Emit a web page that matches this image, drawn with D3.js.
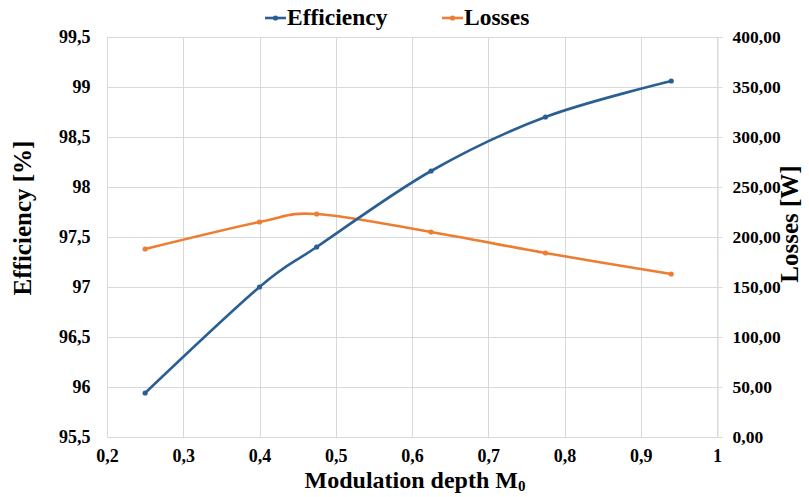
<!DOCTYPE html>
<html>
<head>
<meta charset="utf-8">
<script src="https://cdn.jsdelivr.net/npm/d3@7"></script>
<style>
  html, body { margin: 0; padding: 0; background: #fff; }
</style>
</head>
<body>
<svg id="chart" width="809" height="497"></svg>
<script>
// Modulation depth (x) and the two measured series
const modulation = [0.25, 0.4, 0.475, 0.625, 0.775, 0.94];
const efficiency = [95.94, 97.0, 97.40, 98.16, 98.70, 99.06];
const losses = [188, 215, 223, 205, 184, 163];

const xTicks = [0.2, 0.3, 0.4, 0.5, 0.6, 0.7, 0.8, 0.9, 1.0];
const effTicks = [95.5, 96, 96.5, 97, 97.5, 98, 98.5, 99, 99.5];
const lossTicks = [0, 50, 100, 150, 200, 250, 300, 350, 400];

const seriesNames = ["Efficiency", "Losses"];
const colors = ["#2A5F93", "#ED7D31"];

const FONT = "'Liberation Serif', 'Times New Roman', serif";

const svg = d3.select("#chart")
  .style("font-family", FONT).style("font-weight", "bold");
const plotL = 107, plotR = 717, plotT = 37, plotB = 437;

const x = d3.scaleLinear().domain([0.2, 1.0]).range([plotL, plotR]);
const yL = d3.scaleLinear().domain([95.5, 99.5]).range([plotB, plotT]);
const yR = d3.scaleLinear().domain([0, 400]).range([plotB, plotT]);

const comma = s => s.replace(".", ",");
const fmtX = v => comma(d3.format("~g")(v));
const fmtL = v => comma(d3.format("~g")(v));
const fmtR = v => comma(d3.format(".2f")(v));

// gridlines
const grid = svg.append("g").attr("stroke", "#d9d9d9").attr("stroke-width", 1);
grid.selectAll(".h").data(effTicks).enter().append("line")
  .attr("x1", plotL).attr("x2", plotR)
  .attr("y1", d => Math.round(yL(d)) + 0.5).attr("y2", d => Math.round(yL(d)) + 0.5);
grid.selectAll(".v").data(xTicks).enter().append("line")
  .attr("y1", plotT).attr("y2", plotB)
  .attr("x1", d => Math.round(x(d)) + 0.5).attr("x2", d => Math.round(x(d)) + 0.5);

function styleTicks(g, size) {
  g.attr("font-family", null).attr("font-size", null);
  g.selectAll(".tick text")
    .style("font-family", FONT).style("font-weight", "bold")
    .style("font-size", size + "px").attr("fill", "#000");
}

// right axis
const axR = d3.axisRight(yR).tickValues(lossTicks).tickFormat(fmtR).tickSize(5).tickPadding(10);
const gR = svg.append("g").attr("transform", `translate(${plotR + 0.5},0)`).call(axR);
gR.select(".domain").attr("stroke", "#d9d9d9");
gR.selectAll(".tick line").attr("stroke", "#d9d9d9");
styleTicks(gR, 17.5);
gR.selectAll(".tick text").attr("x", 15);

// left axis
const axL = d3.axisLeft(yL).tickValues(effTicks).tickFormat(fmtL).tickSize(0).tickPadding(17);
const gL = svg.append("g").attr("transform", `translate(${plotL + 0.5},0)`).call(axL);
gL.select(".domain").remove();
styleTicks(gL, 18);

// bottom axis
const axB = d3.axisBottom(x).tickValues(xTicks).tickFormat(fmtX).tickSize(0).tickPadding(12);
const gB = svg.append("g").attr("transform", `translate(0,${plotB + 0.5})`).call(axB);
gB.select(".domain").remove();
styleTicks(gB, 18);

// series lines
const curve = d3.curveCardinal.tension(0);
const pts = [
  modulation.map((m, i) => [m, efficiency[i]]),
  modulation.map((m, i) => [m, losses[i]])
];
const scalesY = [yL, yR];

[1, 0].forEach(s => {
  const line = d3.line().x(d => x(d[0])).y(d => scalesY[s](d[1])).curve(curve);
  svg.append("path").datum(pts[s])
    .attr("fill", "none").attr("stroke", colors[s]).attr("stroke-width", 2.6)
    .attr("stroke-linecap", "round").attr("d", line);
  svg.append("g").selectAll("circle").data(pts[s]).enter().append("circle")
    .attr("cx", d => x(d[0])).attr("cy", d => scalesY[s](d[1])).attr("r", 2.6)
    .attr("fill", colors[s]);
});

// axis titles
svg.append("text").attr("x", (plotL + plotR) / 2 + 3).attr("y", 488)
  .attr("text-anchor", "middle").style("font-size", "24px")
  .text("Modulation depth M")
  .append("tspan").attr("dy", 3).style("font-size", "15px").text("0");

svg.append("text")
  .attr("transform", `translate(31,218) rotate(-90)`)
  .attr("text-anchor", "middle").style("font-size", "25px").text("Efficiency [%]");

svg.append("text")
  .attr("transform", `translate(798,224) rotate(-90)`)
  .attr("text-anchor", "middle").style("font-size", "25px").text("Losses [W]");

// legend
const legendX = [265, 442];
seriesNames.forEach((name, i) => {
  const g = svg.append("g").attr("transform", `translate(${legendX[i]},18)`);
  g.append("line").attr("x1", 0).attr("x2", 21).attr("y1", 0).attr("y2", 0)
    .attr("stroke", colors[i]).attr("stroke-width", 2.6);
  g.append("circle").attr("cx", 10.5).attr("cy", 0).attr("r", 2.6).attr("fill", colors[i]);
  g.append("text").attr("x", 22).attr("y", 7).style("font-size", "23.5px").text(name);
});
</script>
</body>
</html>
